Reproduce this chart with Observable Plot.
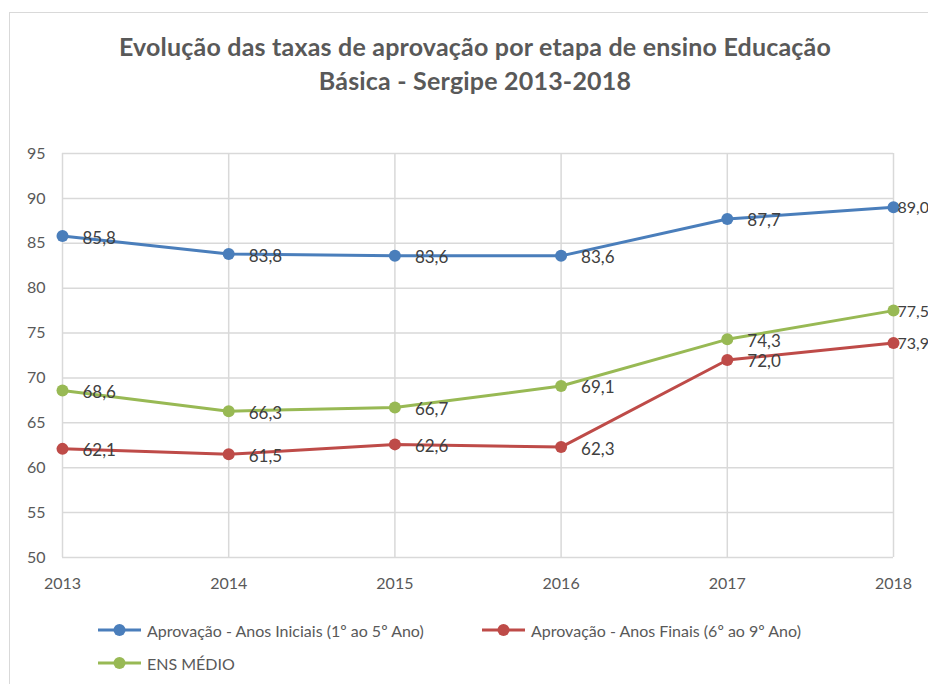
<!DOCTYPE html>
<html><head><meta charset="utf-8">
<script src="https://cdn.jsdelivr.net/npm/d3@7"></script>
<script src="https://cdn.jsdelivr.net/npm/@observablehq/plot@0.6"></script>
<style>
body{margin:0;background:#fff;font-family:Lato,"Open Sans",sans-serif;overflow:hidden;}
#frame{position:absolute;left:9px;top:12px;width:1000px;height:1000px;border:1px solid #d9d9d9;}
#title{position:absolute;left:0;width:950px;top:29px;text-align:center;font-weight:bold;font-size:25px;line-height:34px;color:#595959;letter-spacing:0.2px;}
#chart{position:absolute;left:0;top:130px;}
.leg{position:absolute;font-size:16px;color:#595959;display:flex;align-items:center;white-space:nowrap;}
.leg svg{margin-right:6px;}
</style></head>
<body>
<div id="frame"></div>
<div id="title">Evolução das taxas de aprovação por etapa de ensino Educação<br>Básica - Sergipe 2013-2018</div>
<div id="chart"></div>
<div id="legend"></div>
<script>
const years = [2013, 2014, 2015, 2016, 2017, 2018];
const seriesNames = ["Aprovação - Anos Iniciais (1º ao 5º Ano)", "Aprovação - Anos Finais (6º ao 9º Ano)", "ENS MÉDIO"];
const anosIniciais = [85.8, 83.8, 83.6, 83.6, 87.7, 89.0];
const anosFinais = [62.1, 61.5, 62.6, 62.3, 72.0, 73.9];
const ensMedio = [68.6, 66.3, 66.7, 69.1, 74.3, 77.5];
const colors = ["#4a7ebb", "#be4b48", "#98b954"];
const yTicks = [50, 55, 60, 65, 70, 75, 80, 85, 90, 95];

const valuesBySeries = [anosIniciais, anosFinais, ensMedio];
const data = [];
seriesNames.forEach((s, i) => years.forEach((y, j) => data.push({series: s, year: y, value: valuesBySeries[i][j]})));
const fmt = v => v.toFixed(1).replace(".", ",");
const lastYear = years[years.length - 1];
const inner = data.filter(d => d.year !== lastYear);
const last = data.filter(d => d.year === lastYear);

const plot = Plot.plot({
  width: 928, height: 470,
  marginLeft: 62, marginRight: 35, marginTop: 23, marginBottom: 43,
  style: {fontFamily: "Lato, sans-serif", fontSize: "16px", color: "#595959", overflow: "visible"},
  x: {domain: [2013, 2018], label: null},
  y: {domain: [50, 95], label: null},
  color: {domain: seriesNames, range: colors},
  marks: [
    Plot.gridY(yTicks, {stroke: "#d9d9d9", strokeOpacity: 1, strokeWidth: 1.5}),
    Plot.gridX(years, {stroke: "#d9d9d9", strokeOpacity: 1, strokeWidth: 1.5}),
    Plot.axisX({ticks: years, tickFormat: d => String(d), tickSize: 0, tickPadding: 20, fontSize: 16, fill: "#595959", label: null}),
    Plot.axisY({ticks: yTicks, tickSize: 0, tickPadding: 17, fontSize: 16, fill: "#595959", label: null}),
    Plot.line(data, {x: "year", y: "value", z: "series", stroke: "series", strokeWidth: 3}),
    Plot.dot(data, {x: "year", y: "value", fill: "series", r: 6}),
    Plot.text(inner, {x: "year", y: "value", text: d => fmt(d.value), dx: 20, dy: 2, textAnchor: "start", fontSize: 17, fill: "#404040"}),
    Plot.text(last, {x: "year", y: "value", text: d => fmt(d.value), dx: 4, dy: 1, textAnchor: "start", fontSize: 16, fill: "#404040"})
  ]
});
document.getElementById("chart").appendChild(plot);

const legendPos = [[98, 630], [482, 630], [98, 663]];
const legend = document.getElementById("legend");
seriesNames.forEach((s, i) => {
  const div = document.createElement("div");
  div.className = "leg";
  div.style.left = legendPos[i][0] + "px";
  div.style.top = (legendPos[i][1] - 11) + "px";
  div.innerHTML = `<svg width="43" height="22"><line x1="0" x2="43" y1="11" y2="11" stroke="${colors[i]}" stroke-width="3"/><circle cx="21.5" cy="11" r="6" fill="${colors[i]}"/></svg><span>${s}</span>`;
  legend.appendChild(div);
});
</script>
</body></html>
